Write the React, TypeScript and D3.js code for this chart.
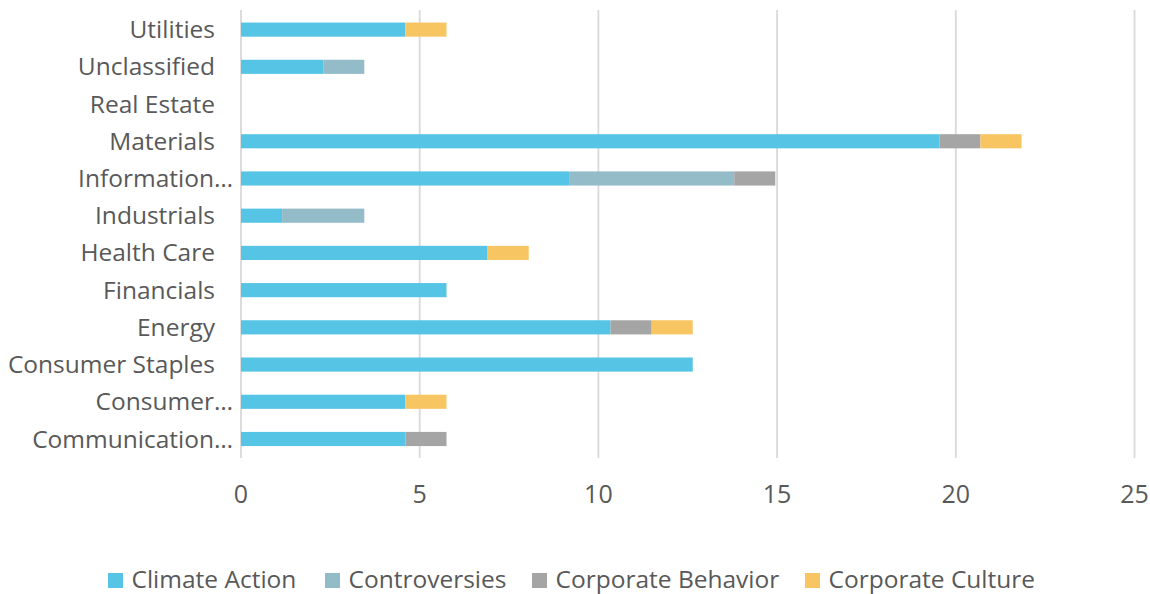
import React from "react";
import * as d3 from "d3";

const categories = [
  "Utilities",
  "Unclassified",
  "Real Estate",
  "Materials",
  "Information…",
  "Industrials",
  "Health Care",
  "Financials",
  "Energy",
  "Consumer Staples",
  "Consumer…",
  "Communication…",
];
const seriesNames = ["Climate Action", "Controversies", "Corporate Behavior", "Corporate Culture"];
const climateAction = [4.6, 2.3, 0, 19.54, 9.2, 1.15, 6.9, 5.75, 10.34, 12.64, 4.6, 4.6];
const controversies = [0, 1.15, 0, 0, 4.6, 2.3, 0, 0, 0, 0, 0, 0];
const corporateBehavior = [0, 0, 0, 1.15, 1.15, 0, 0, 0, 1.15, 0, 0, 1.15];
const corporateCulture = [1.15, 0, 0, 1.15, 0, 0, 1.15, 0, 1.15, 0, 1.15, 0];
const xTicks = [0, 5, 10, 15, 20, 25];
const colors = ["#56C4E4", "#94BBC8", "#A5A5A5", "#F7C663"];

export default function App() {
  const width = 1150;
  const height = 594;
  const x = d3.scaleLinear().domain([0, 25]).range([241, 1134.5]);
  const y = d3.scaleBand().domain(categories).range([11, 457.6]).paddingInner(0.62).paddingOuter(0.31);
  const rows = categories.map((c, i) => ({
    cat: c,
    "Climate Action": climateAction[i],
    Controversies: controversies[i],
    "Corporate Behavior": corporateBehavior[i],
    "Corporate Culture": corporateCulture[i],
  }));
  const stack = d3.stack<any>().keys(seriesNames)(rows);
  const font = "'Open Sans', sans-serif";
  const textColor = "#595959";
  const legendX = [108, 325, 532, 805];

  return (
    <svg width={width} height={height} style={{ position: "absolute", left: 0, top: 0 }}>
      <rect x={0} y={0} width={width} height={height} fill="#fff" />
      {xTicks.map((t) => (
        <line key={t} x1={x(t)} x2={x(t)} y1={10} y2={458} stroke="#D9D9D9" strokeWidth={1.8} />
      ))}
      {stack.map((s, si) => (
        <g key={seriesNames[si]} fill={colors[si]}>
          {s.map((d, i) =>
            d[1] - d[0] > 0 ? (
              <rect
                key={i}
                x={x(d[0])}
                width={x(d[1]) - x(d[0])}
                y={y(categories[i])!}
                height={y.bandwidth()}
              />
            ) : null
          )}
        </g>
      ))}
      {categories.map((c) => (
        <text
          key={c}
          x={c.endsWith("…") ? 233 : 215}
          y={y(c)! + y.bandwidth() / 2}
          dy="0.35em"
          textAnchor="end"
          fontFamily={font}
          fontSize={24.5}
          fill={textColor}
        >
          {c}
        </text>
      ))}
      {xTicks.map((t) => (
        <text
          key={t}
          x={x(t)}
          y={494}
          dy="0.35em"
          textAnchor="middle"
          fontFamily={font}
          fontSize={25}
          fill={textColor}
        >
          {t}
        </text>
      ))}
      {seriesNames.map((n, i) => (
        <g key={n}>
          <rect x={legendX[i]} y={573} width={15} height={15} fill={colors[i]} />
          <text x={legendX[i] + 23.5} y={588} fontFamily={font} fontSize={24.5} fill={textColor}>
            {n}
          </text>
        </g>
      ))}
    </svg>
  );
}
